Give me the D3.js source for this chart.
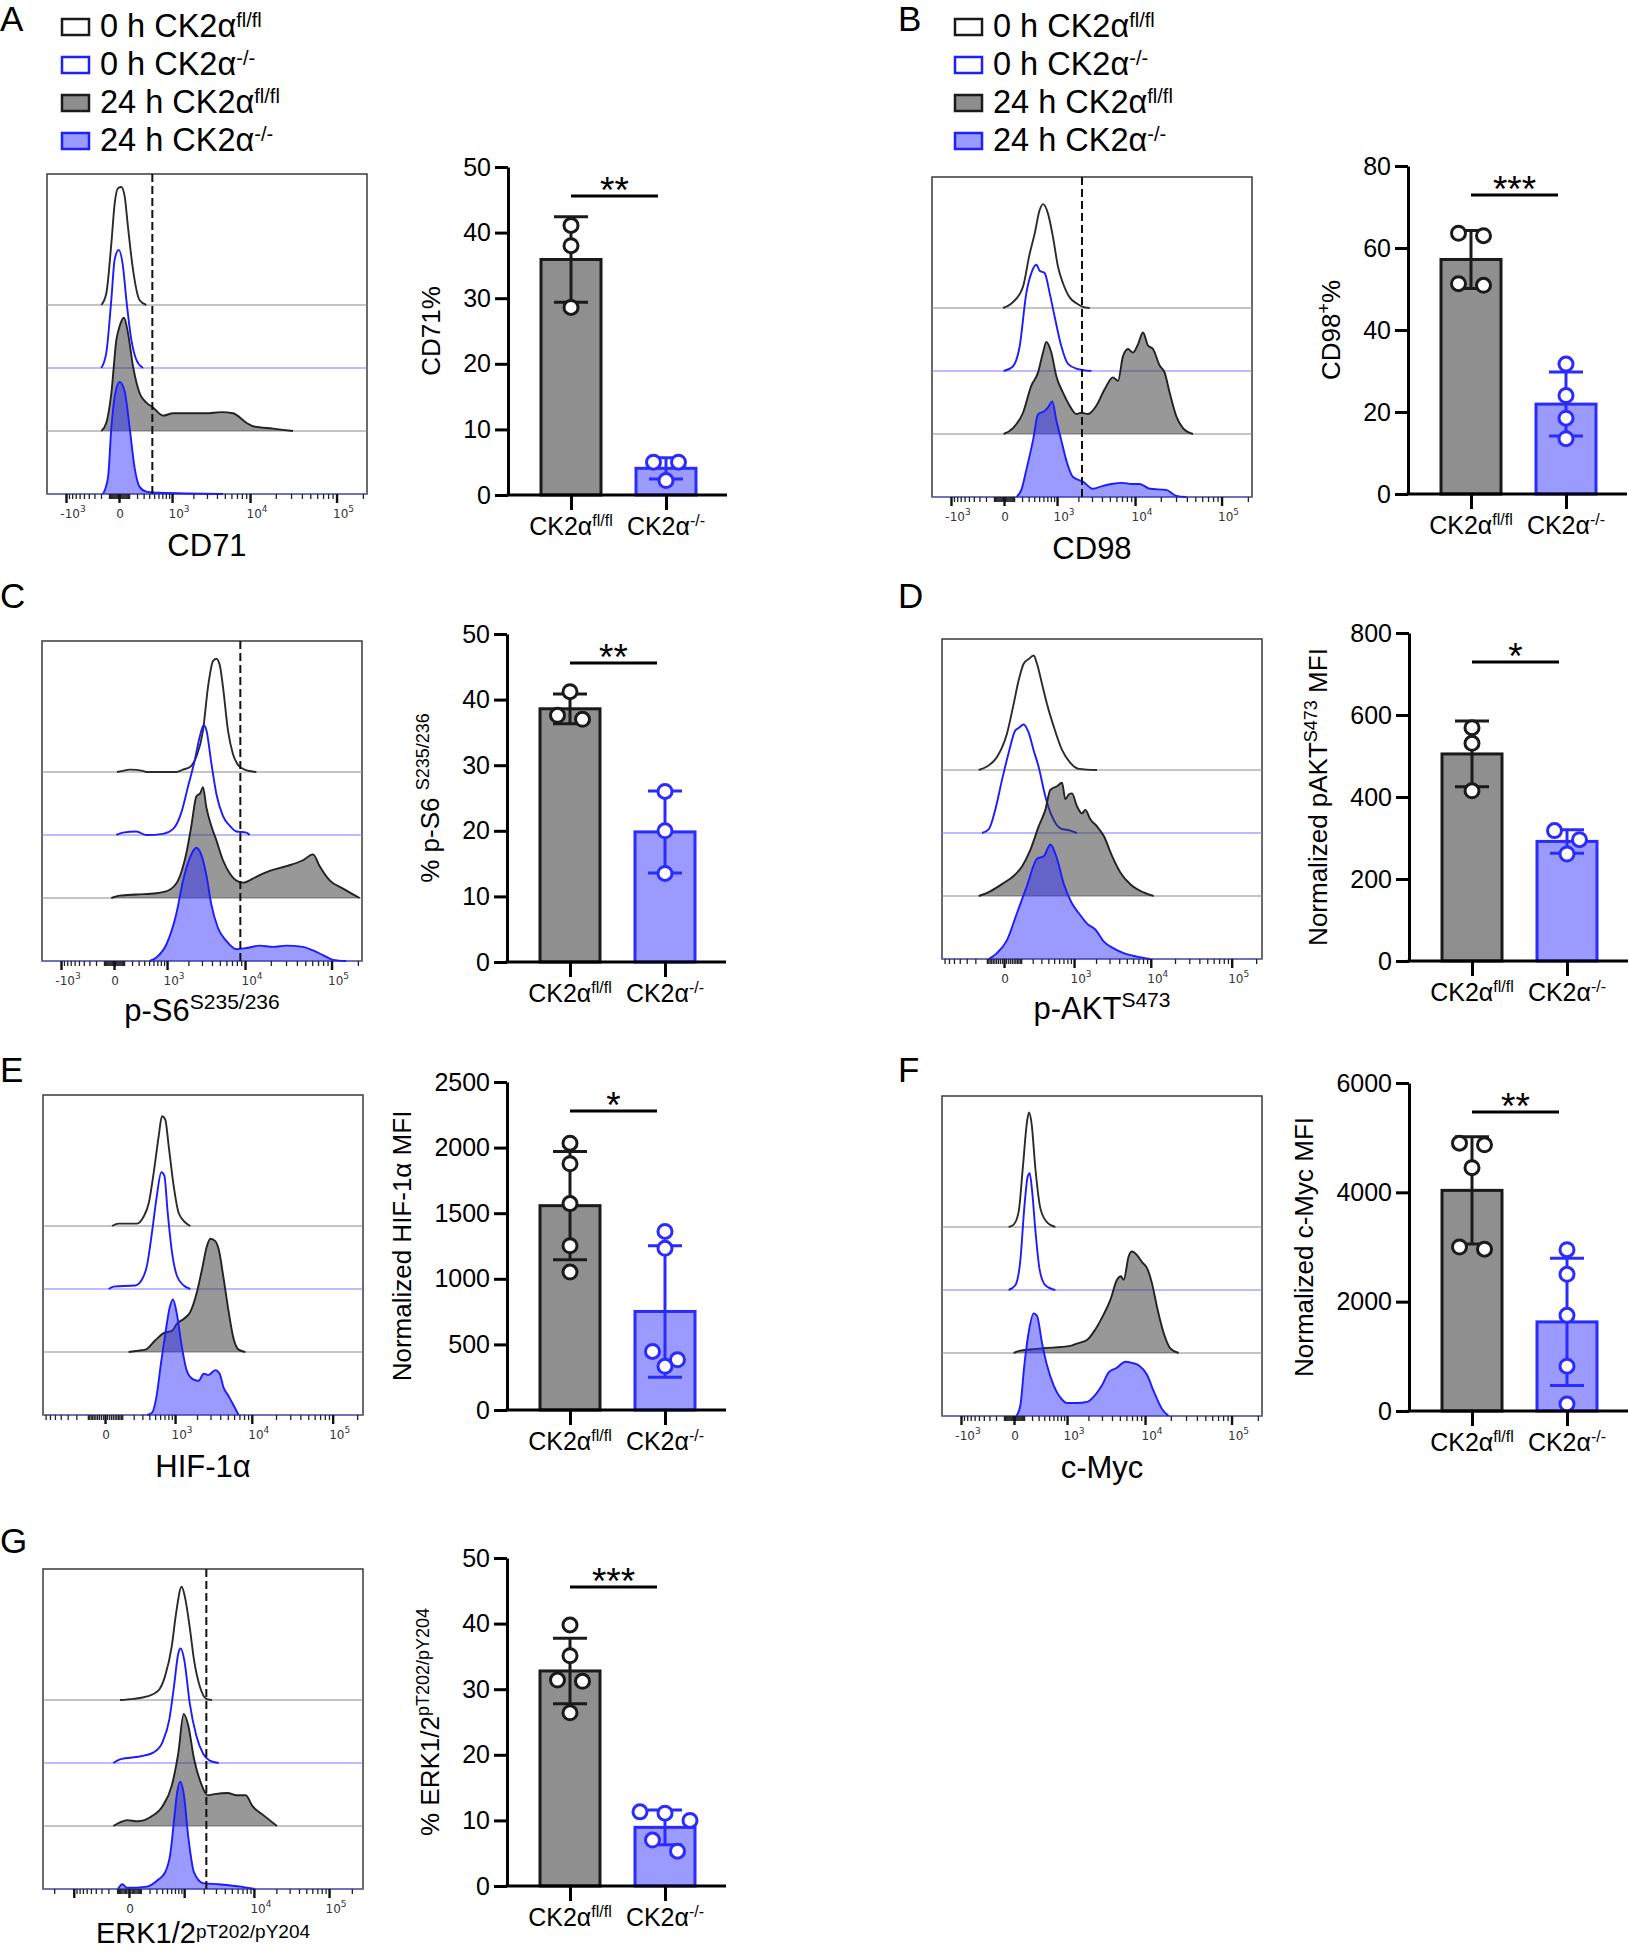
<!DOCTYPE html>
<html>
<head>
<meta charset="utf-8">
<script src="https://d3js.org/d3.v7.min.js"></script>
<style type="text/css">
body { margin: 0; background: #fff; }
svg { display: block; }
</style>
</head>
<body>
<script>

// ---------- legend / group labels ----------
var legendLabels = ["0 h CK2α", "0 h CK2α", "24 h CK2α", "24 h CK2α"];
var legendSups   = ["fl/fl", "-/-", "fl/fl", "-/-"];
var groupLabels  = ["CK2α", "CK2α"];
var groupSups    = ["fl/fl", "-/-"];

// ---------- flow axis (biexponential-like) ----------
var majorTicks = [-1000, 0, 1000, 10000, 100000];
var labelsFull = [-1000, 0, 1000, 10000, 100000];
var labelsPos  = [0, 1000, 10000, 100000];
var labelsErk  = [0, 10000, 100000];

// ---------- histograms: [display channel 0-960, % of mode] ----------
var cd71_0h_wt  = [[163,0],[178,10],[193,52],[203,86],[213,99],[223,100],[233,92],[243,66],[258,30],[278,4],[298,0]];
var cd71_0h_ko  = [[163,0],[178,13],[193,58],[203,92],[215,100],[228,86],[238,58],[253,24],[268,7],[288,0]];
var cd71_24h_wt = [[163,0],[178,7],[193,32],[208,77],[218,89],[231,96],[243,83],[258,55],[278,32],[298,24],[318,20],[348,13],[378,15],[428,15],[478,15],[523,16],[558,15],[598,7],[618,4],[678,2],[738,0]];
var cd71_24h_ko = [[168,0],[183,14],[193,56],[206,87],[218,95],[233,87],[248,56],[263,22],[278,6],[298,2],[338,1],[528,0]];

var cd98_0h_wt  = [[213,0],[243,5],[273,18],[293,46],[308,63],[323,83],[333,88],[348,80],[363,60],[378,35],[393,21],[413,9],[433,4],[453,1],[473,0]];
var cd98_0h_ko  = [[215,0],[243,4],[263,21],[283,66],[298,83],[313,90],[323,85],[338,83],[353,66],[368,46],[388,21],[408,6],[433,2],[478,0]];
var cd98_24h_wt = [[215,0],[243,5],[273,18],[298,41],[318,52],[333,69],[343,78],[358,69],[373,49],[393,35],[413,24],[433,17],[448,18],[468,17],[493,24],[518,38],[543,48],[558,45],[573,66],[588,72],[603,69],[618,76],[633,86],[648,75],[663,72],[683,58],[698,52],[713,35],[733,15],[753,5],[783,0]];
var cd98_24h_ko = [[253,0],[268,6],[283,23],[303,48],[318,70],[338,73],[348,76],[361,81],[373,65],[388,48],[403,31],[423,17],[453,13],[483,7],[508,9],[538,11],[573,12],[598,11],[623,11],[653,7],[703,6],[733,1],[763,0]];

var ps6_0h_wt  = [[225,0],[243,1],[263,2],[303,1],[313,0],[403,0],[423,2],[443,4],[463,13],[483,35],[498,72],[513,94],[523,96],[533,91],[543,72],[558,35],[573,15],[588,6],[608,2],[643,0]];
var ps6_0h_ko  = [[223,0],[243,2],[283,3],[313,0],[363,1],[393,5],[418,19],[438,41],[458,63],[473,83],[485,93],[493,89],[508,61],[523,35],[543,16],[563,8],[583,3],[613,2],[623,0]];
var ps6_24h_wt = [[208,0],[233,2],[283,3],[343,4],[383,7],[413,18],[433,38],[448,61],[463,86],[475,89],[483,94],[493,77],[508,61],[523,49],[543,32],[563,21],[588,14],[603,13],[643,18],[683,23],[733,27],[783,32],[813,37],[833,27],[863,15],[903,8],[953,0]];
var ps6_24h_ko = [[323,0],[343,3],[373,14],[403,40],[423,68],[443,87],[463,96],[478,90],[493,73],[508,48],[528,28],[553,17],[583,10],[613,11],[653,13],[693,12],[733,13],[783,12],[813,9],[843,5],[873,1],[913,0]];

var pakt_0h_wt  = [[110,0],[135,3],[165,11],[195,31],[215,56],[230,76],[245,90],[260,94],[275,97],[285,90],[300,73],[315,56],[335,37],[360,17],[385,6],[410,1],[465,0]];
var pakt_0h_ko  = [[120,0],[140,3],[160,20],[180,45],[200,68],[220,87],[230,89],[245,92],[260,85],[275,70],[290,56],[310,31],[330,14],[355,4],[385,2],[405,0]];
var pakt_24h_wt = [[110,0],[145,4],[185,11],[215,17],[240,25],[265,39],[290,59],[310,73],[325,90],[345,93],[360,96],[370,82],[380,86],[390,87],[405,76],[420,70],[430,73],[445,65],[465,59],[485,51],[510,34],[535,20],[565,10],[605,3],[635,0]];
var pakt_24h_ko = [[140,0],[165,5],[195,16],[225,39],[255,62],[285,85],[305,87],[325,97],[345,85],[365,64],[390,47],[410,39],[435,30],[460,25],[485,15],[515,9],[545,5],[585,2],[625,0]];

var hif_0h_wt  = [[207,0],[227,2],[282,2],[302,8],[317,19],[332,45],[347,76],[357,93],[367,90],[377,68],[392,34],[407,11],[427,3],[442,0]];
var hif_0h_ko  = [[197,0],[212,2],[277,3],[297,8],[312,20],[327,48],[340,76],[355,99],[364,96],[374,65],[387,31],[402,11],[422,3],[442,0]];
var hif_24h_wt = [[257,0],[282,1],[307,2],[337,10],[362,16],[387,18],[402,24],[422,28],[442,34],[462,51],[477,70],[492,90],[502,96],[517,94],[527,87],[542,62],[557,34],[572,11],[587,2],[607,0]];
var hif_24h_ko = [[312,0],[327,2],[340,15],[354,44],[367,69],[380,91],[390,98],[402,85],[417,57],[432,37],[452,30],[467,29],[482,35],[497,34],[517,38],[530,35],[542,23],[557,16],[572,8],[587,0]];

var myc_0h_wt  = [[200,0],[215,2],[230,13],[243,52],[255,89],[261,97],[269,87],[280,50],[295,16],[315,4],[340,0]];
var myc_0h_ko  = [[200,0],[220,4],[235,25],[247,70],[257,96],[263,99],[270,85],[280,51],[293,17],[310,4],[340,0]];
var myc_24h_wt = [[215,0],[235,2],[265,3],[305,4],[385,6],[405,8],[435,11],[460,20],[480,30],[505,45],[525,62],[537,65],[545,62],[560,82],[570,86],[585,83],[600,77],[615,72],[630,59],[645,39],[665,17],[685,4],[710,0]];
var myc_24h_ko = [[223,0],[235,9],[247,43],[260,71],[275,87],[285,85],[300,62],[315,43],[335,26],[360,14],[375,11],[405,11],[435,12],[460,18],[480,26],[500,37],[525,41],[550,46],[570,45],[590,43],[615,35],[635,21],[660,6],[680,0]];

var erk_0h_wt  = [[231,0],[272,1],[312,3],[346,8],[366,20],[386,45],[399,73],[416,96],[426,87],[440,62],[453,34],[471,11],[490,1],[507,0]];
var erk_0h_ko  = [[211,0],[231,3],[299,6],[332,9],[359,18],[379,37],[393,65],[406,93],[413,97],[424,87],[440,51],[460,23],[480,8],[500,2],[527,0]];
var erk_24h_wt = [[211,0],[231,3],[252,5],[285,4],[325,8],[359,17],[386,34],[406,62],[422,95],[436,85],[453,57],[473,37],[494,26],[514,27],[554,28],[581,26],[608,26],[628,17],[662,9],[702,0]];
var erk_24h_ko = [[225,0],[238,4],[252,1],[312,2],[346,8],[366,14],[382,30],[393,58],[402,81],[412,91],[422,81],[436,44],[453,14],[480,5],[527,4],[594,2],[635,0]];

// ---------- bar charts: individual mice ----------
var cd71_wt = [41.1, 38.0, 28.6],  cd71_ko = [5.0, 5.0, 2.2];
var cd98_wt = [63.6, 63.0, 51.3, 50.9], cd98_ko = [31.7, 24.0, 18.5, 13.5];
var ps6_wt  = [41.2, 37.6, 37.0],  ps6_ko  = [26.0, 20.0, 13.5];
var pakt_wt = [569, 531, 415],     pakt_ko = [318, 296, 261];
var hif_wt  = [2034, 1877, 1573, 1252, 1051], hif_ko = [1361, 1232, 446, 383, 333];
var myc_wt  = [4900, 4870, 4450, 3000, 2960], myc_ko = [2950, 2500, 1750, 820, 130];
var erk_wt  = [39.8, 35.1, 31.4, 31.2, 26.4], erk_ko = [11.3, 11.1, 10.0, 7.0, 5.3];

// ---------------------------------------------------------------

var BLACK = "#1a1a1a", BLUE = "#1f1fff";

var axisFull = {c: 330, min: -1861, max: 223000};
var axisPos  = {c: 160, min: -765,  max: 236000};
var axisWide = {c: 230, min: -2900, max: 280800};

var panels = [
	{letter: "A", lx: 0, ly: 31, legend: [62, 19],
	 hist: {x: 47, y: 174, axis: axisFull, labels: labelsFull, gate: 316, title: [["CD71"]], tdy: 62, tsize: 31, traise: 12, tsup: 21,
	        curves: [cd71_0h_wt, cd71_0h_ko, cd71_24h_wt, cd71_24h_ko]},
	 bar: {ax: 508, top: 167, max: 50, step: 10, wt: cd71_wt, ko: cd71_ko, sig: "**", title: [["CD71%"]]}},
	{letter: "B", lx: 898, ly: 31, legend: [955, 19],
	 hist: {x: 932, y: 177, axis: axisFull, labels: labelsFull, gate: 450, title: [["CD98"]], tdy: 62, tsize: 31, traise: 12, tsup: 21,
	        curves: [cd98_0h_wt, cd98_0h_ko, cd98_24h_wt, cd98_24h_ko]},
	 bar: {ax: 1408, top: 166, max: 80, step: 20, wt: cd98_wt, ko: cd98_ko, sig: "***", title: [["CD98"], ["+", 1], ["%"]]}},
	{letter: "C", lx: 0, ly: 608,
	 hist: {x: 42, y: 641, axis: axisFull, labels: labelsFull, gate: 595, title: [["p-S6"], ["S235/236", 1]], tdy: 60, tsize: 31, traise: 12, tsup: 21,
	        curves: [ps6_0h_wt, ps6_0h_ko, ps6_24h_wt, ps6_24h_ko]},
	 bar: {ax: 507, top: 634, max: 50, step: 10, wt: ps6_wt, ko: ps6_ko, sig: "**", title: [["% p-S6 "], ["S235/236", 1]]}},
	{letter: "D", lx: 898, ly: 608,
	 hist: {x: 942, y: 639, axis: axisPos, labels: labelsPos, gate: null, title: [["p-AKT"], ["S473", 1]], tdy: 60, tsize: 31, traise: 12, tsup: 21,
	        curves: [pakt_0h_wt, pakt_0h_ko, pakt_24h_wt, pakt_24h_ko]},
	 bar: {ax: 1409, top: 633, max: 800, step: 200, wt: pakt_wt, ko: pakt_ko, sig: "*", title: [["Normalized pAKT"], ["S473", 1], [" MFI"]]}},
	{letter: "E", lx: 0, ly: 1082,
	 hist: {x: 43, y: 1095, axis: axisPos, labels: labelsPos, gate: null, title: [["HIF-1α"]], tdy: 62, tsize: 31, traise: 12, tsup: 21,
	        curves: [hif_0h_wt, hif_0h_ko, hif_24h_wt, hif_24h_ko]},
	 bar: {ax: 507, top: 1082, max: 2500, step: 500, wt: hif_wt, ko: hif_ko, sig: "*", title: [["Normalized HIF-1α MFI"]]}},
	{letter: "F", lx: 898, ly: 1082,
	 hist: {x: 942, y: 1096, axis: axisFull, labels: labelsFull, gate: null, title: [["c-Myc"]], tdy: 62, tsize: 31, traise: 12, tsup: 21,
	        curves: [myc_0h_wt, myc_0h_ko, myc_24h_wt, myc_24h_ko]},
	 bar: {ax: 1409, top: 1083, max: 6000, step: 2000, wt: myc_wt, ko: myc_ko, sig: "**", title: [["Normalized c-Myc MFI"]]}},
	{letter: "G", lx: 0, ly: 1553,
	 hist: {x: 43, y: 1569, axis: axisWide, labels: labelsErk, gate: 490, title: [["ERK1/2"], ["pT202/pY204", 1]], tdy: 54, tsize: 29, traise: 5, tsup: 19,
	        curves: [erk_0h_wt, erk_0h_ko, erk_24h_wt, erk_24h_ko]},
	 bar: {ax: 507, top: 1558, max: 50, step: 10, wt: erk_wt, ko: erk_ko, sig: "***", title: [["% ERK1/2"], ["pT202/pY204", 1]]}}
];

var svg = d3.select("body").append("svg")
	.attr("width", 1629).attr("height", 1950)
	.style("font-family", "'Liberation Sans', Arial, sans-serif");
svg.append("rect").attr("width", 1629).attr("height", 1950).attr("fill", "#fff");

// text with superscript parts: [[str], [str, 1]...]
function rich(sel, parts, supSize, raise) {
	var prevSup = false;
	parts.forEach(function(p) {
		var t = sel.append("tspan").text(p[0]);
		if (p[1]) { t.attr("font-size", supSize).attr("dy", -raise); }
		else if (prevSup) { t.attr("dy", raise); }
		prevSup = !!p[1];
	});
}

function drawLegend(x0, y0) {
	var st = [{fill: "#fff", stroke: BLACK}, {fill: "#fff", stroke: BLUE},
	          {fill: "#8e8e8e", stroke: BLACK}, {fill: "#9a9aff", stroke: BLUE}];
	legendLabels.forEach(function(lab, i) {
		var y = y0 + i * 38;
		svg.append("rect").attr("x", x0).attr("y", y).attr("width", 27).attr("height", 16)
			.attr("fill", st[i].fill).attr("stroke", st[i].stroke).attr("stroke-width", 2.5);
		var t = svg.append("text").attr("x", x0 + 38).attr("y", y + 18).attr("font-size", 32.5);
		rich(t, [[lab], [legendSups[i], 1]], 20, 10);
	});
}

var laneStyle = [
	{line: "#2b2b2b", base: "#8a8a8a", fill: null},
	{line: "#1c1cff", base: "#7a7aff", fill: null},
	{line: "#222222", base: "#8a8a8a", fill: "#3a3a3a", op: 0.52},
	{line: "#1c1cff", base: "#7a7aff", fill: "#2828ff", op: 0.47}
];
var laneOffset = [189, 126, 63, 0];

function drawHist(h) {
	var W = 320, H = 320;
	var g = svg.append("g").attr("transform", "translate(" + h.x + "," + h.y + ")");
	var x = d3.scaleLinear().domain([0, 960]).range([0, W]);
	var xv = d3.scaleSymlog().constant(h.axis.c).domain([h.axis.min, h.axis.max]).range([0, W]);
	var y = d3.scaleLinear().domain([0, 100]).range([0, 118]);

	g.append("rect").attr("width", W).attr("height", H)
		.attr("fill", "#fff").attr("stroke", "#3a3a3a").attr("stroke-width", 1.5);

	var line = d3.line().x(function(d) { return x(d[0]); }).y(function(d) { return -y(d[1]); })
		.curve(d3.curveMonotoneX);
	var area = d3.area().x(function(d) { return x(d[0]); }).y0(0).y1(function(d) { return -y(d[1]); })
		.curve(d3.curveMonotoneX);

	h.curves.forEach(function(c, i) {
		var st = laneStyle[i];
		var gl = g.append("g").attr("transform", "translate(0," + (H - laneOffset[i]) + ")");
		gl.append("line").attr("x1", 0).attr("x2", W).attr("stroke", st.base).attr("stroke-width", 1.2);
		if (st.fill) {
			gl.append("path").datum(c).attr("d", area).attr("fill", st.fill).attr("fill-opacity", st.op);
		}
		gl.append("path").datum(c).attr("d", line).attr("fill", "none")
			.attr("stroke", st.line).attr("stroke-width", 1.9).attr("stroke-linejoin", "round");
	});

	if (h.gate != null) {
		g.append("line").attr("x1", x(h.gate)).attr("x2", x(h.gate)).attr("y1", 0).attr("y2", H)
			.attr("stroke", "#111").attr("stroke-width", 2).attr("stroke-dasharray", "8,4");
	}

	// ticks below the plot
	var majors = majorTicks.filter(function(v) { return v > h.axis.min && v < h.axis.max; });
	var minors = [];
	[-1, 1].forEach(function(s) {
		[1, 2, 3, 4, 5].forEach(function(d) {
			for (var m = 1; m < 10; m++) {
				var v = s * m * Math.pow(10, d);
				if (v > h.axis.min && v < h.axis.max && majorTicks.indexOf(v) < 0) minors.push(v);
			}
		});
	});
	var ta = g.append("g").attr("transform", "translate(0," + H + ")");
	ta.append("g").attr("class", "mn").call(d3.axisBottom(xv).tickValues(minors).tickSize(5).tickFormat(""));
	ta.append("g").attr("class", "mj").call(d3.axisBottom(xv).tickValues(majors).tickSize(9).tickFormat(""));
	ta.selectAll(".domain").remove();
	ta.selectAll(".mn .tick line").attr("stroke", "#222").attr("stroke-width", 1.3);
	ta.selectAll(".mj .tick line").attr("stroke", "#111").attr("stroke-width", 2.4);

	h.labels.forEach(function(v) {
		var t = g.append("text").attr("x", xv(v) + (v === 0 ? 1 : 7)).attr("y", H + 24)
			.attr("text-anchor", "middle").attr("font-family", "'DejaVu Sans', Verdana, sans-serif")
			.attr("font-size", 12).attr("fill", "#333");
		if (v === 0) t.text("0");
		else rich(t, [[(v < 0 ? "-" : "") + "10"], [String(Math.round(Math.log10(Math.abs(v)))), 1]], 9, 6);
	});

	var tt = g.append("text").attr("x", W / 2).attr("y", H + h.tdy).attr("text-anchor", "middle").attr("font-size", h.tsize);
	rich(tt, h.title, h.tsup, h.traise);
}

// spread overlapping dots sideways, GraphPad style
function swarm(vals, y) {
	var pts = vals.map(function(v) { return {v: v, py: y(v)}; })
		.sort(function(a, b) { return a.py - b.py; });
	var rows = [];
	pts.forEach(function(p) {
		var r = rows[rows.length - 1];
		if (r && Math.abs(p.py - r[0].py) < 14) r.push(p); else rows.push([p]);
	});
	rows.forEach(function(r) {
		r.forEach(function(p, k) { p.dx = (k - (r.length - 1) / 2) * 25; });
	});
	return pts;
}

function drawBars(b) {
	var g = svg.append("g");
	var bottom = b.top + 328;
	var y = d3.scaleLinear().domain([0, b.max]).range([bottom, b.top]);
	var x = d3.scalePoint().domain(["wt", "ko"]).range([b.ax + 63, b.ax + 158]);
	var groups = [
		{key: "wt", vals: b.wt, fill: "#8f8f8f", stroke: BLACK},
		{key: "ko", vals: b.ko, fill: "#9a9aff", stroke: "#2b2bff"}
	];

	groups.forEach(function(gr) {
		var m = d3.mean(gr.vals), sd = d3.deviation(gr.vals), cx = x(gr.key);
		g.append("rect").attr("x", cx - 30).attr("y", y(m)).attr("width", 60).attr("height", bottom - y(m))
			.attr("fill", gr.fill).attr("stroke", gr.stroke).attr("stroke-width", 3);
		g.append("line").attr("x1", cx).attr("x2", cx).attr("y1", y(m - sd)).attr("y2", y(m + sd))
			.attr("stroke", gr.stroke).attr("stroke-width", 3);
		[m - sd, m + sd].forEach(function(v) {
			g.append("line").attr("x1", cx - 17).attr("x2", cx + 17).attr("y1", y(v)).attr("y2", y(v))
				.attr("stroke", gr.stroke).attr("stroke-width", 3);
		});
		g.selectAll(null).data(swarm(gr.vals, y)).enter().append("circle")
			.attr("cx", function(d) { return cx + d.dx; })
			.attr("cy", function(d) { return d.py; })
			.attr("r", 7).attr("fill", "#fff").attr("stroke", gr.stroke).attr("stroke-width", 3);
	});

	// y axis
	var ya = g.append("g").attr("transform", "translate(" + b.ax + ",0)")
		.call(d3.axisLeft(y).tickValues(d3.range(0, b.max + 1, b.step)).tickFormat(d3.format("d"))
			.tickSize(13).tickPadding(4).tickSizeOuter(0));
	ya.attr("font-family", null).attr("font-size", 25);
	ya.select(".domain").attr("stroke", "#000").attr("stroke-width", 3);
	ya.selectAll(".tick line").attr("stroke", "#000").attr("stroke-width", 3);
	ya.selectAll(".tick text").attr("fill", "#000");

	// x axis
	g.append("line").attr("x1", b.ax - 1.5).attr("x2", b.ax + 219).attr("y1", bottom).attr("y2", bottom)
		.attr("stroke", "#000").attr("stroke-width", 3);
	var xa = g.append("g").attr("transform", "translate(0," + bottom + ")")
		.call(d3.axisBottom(x).tickSize(15).tickFormat(""));
	xa.select(".domain").remove();
	xa.selectAll(".tick line").attr("stroke", "#000").attr("stroke-width", 3);
	["wt", "ko"].forEach(function(k, i) {
		var t = g.append("text").attr("x", x(k)).attr("y", bottom + 40).attr("text-anchor", "middle").attr("font-size", 25);
		rich(t, [[groupLabels[i]], [groupSups[i], 1]], 16, 9);
	});

	// y title
	var maxW = d3.max(ya.selectAll(".tick text").nodes(), function(n) { return n.getComputedTextLength(); });
	var tx = b.ax - 17 - maxW - 23;
	var t = g.append("text").attr("text-anchor", "middle").attr("font-size", 26)
		.attr("transform", "translate(" + tx + "," + ((b.top + bottom) / 2) + ") rotate(-90)");
	rich(t, b.title, 18, 10);

	// significance
	var sy = b.top + 29;
	g.append("line").attr("x1", x("wt")).attr("x2", x("ko") - 8).attr("y1", sy).attr("y2", sy)
		.attr("stroke", "#000").attr("stroke-width", 3);
	g.append("text").attr("x", (x("wt") + x("ko") - 8) / 2).attr("y", sy + 7)
		.attr("text-anchor", "middle").attr("font-size", 37).text(b.sig);
}

panels.forEach(function(p) {
	svg.append("text").attr("x", p.lx).attr("y", p.ly).attr("font-size", 35).text(p.letter);
	if (p.legend) drawLegend(p.legend[0], p.legend[1]);
	drawHist(p.hist);
	drawBars(p.bar);
});

</script>
</body>
</html>
